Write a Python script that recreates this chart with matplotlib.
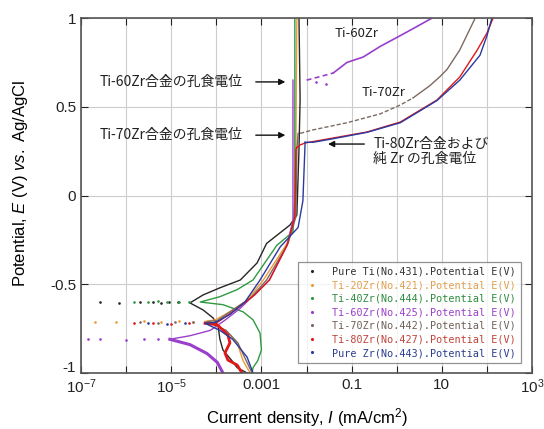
import matplotlib
matplotlib.use("Agg")
import matplotlib.pyplot as plt
from matplotlib.lines import Line2D
from matplotlib.ticker import FixedLocator, FixedFormatter
from matplotlib.transforms import ScaledTranslation

plt.rcParams['font.family'] = ['Liberation Sans', 'DejaVu Sans']
plt.rcParams['mathtext.fontset'] = 'custom'
plt.rcParams['mathtext.rm'] = 'Liberation Sans'
plt.rcParams['mathtext.it'] = 'Liberation Sans:italic'

# current density (mA/cm2) and potential (V)
# Pure Ti
pti_i = [4.8e-4, 2.9e-4, 2.2e-4, 1.4e-4, 1.2e-4, 1.1e-4, 8.5e-5, 5.1e-5, 2.6e-5,
         5.1e-5, 1.2e-4, 3.4e-4, 8e-4, 1.3e-3, 4.3e-3, 6.1e-3, 6.8e-3, 7.2e-3, 6.8e-3]
pti_e = [-1.0, -0.97, -0.93, -0.87, -0.81, -0.74, -0.69, -0.645, -0.605,
         -0.56, -0.52, -0.476, -0.38, -0.27, -0.166, -0.11, 0.26, 0.54, 1.0]
pti_dot_i = [2.6e-7, 7e-7, 2e-6, 4e-6, 6e-6, 9e-6, 1.4e-5]
pti_dot_e = [-0.60, -0.605, -0.60, -0.598, -0.603, -0.60, -0.602]

# Ti-20Zr
t20_i = [5.6e-4, 3.9e-4, 2.9e-4, 1.6e-4, 8e-5, 5.5e-5, 9.6e-5, 2.0e-4, 4.8e-4,
         1.1e-3, 3.7e-3, 5.5e-3, 5.8e-3, 6.1e-3]
t20_e = [-1.0, -0.93, -0.83, -0.76, -0.72, -0.71, -0.70, -0.655, -0.59,
         -0.476, -0.27, -0.12, 0.26, 1.0]
t20_dot_i = [2e-7, 6e-7, 2.5e-6, 6e-6, 1.5e-5, 3e-5]
t20_dot_e = [-0.71, -0.712, -0.705, -0.71, -0.708, -0.71]

# Ti-40Zr
t40_i = [6.2e-4, 6.5e-4, 8.3e-4, 1.0e-3, 9.3e-4, 6.5e-4, 3.9e-4, 1.4e-4, 4.4e-5,
         1.2e-4, 2.9e-4, 6.5e-4, 2.2e-3, 5.0e-3, 5.5e-3, 5.5e-3]
t40_e = [-1.0, -0.97, -0.93, -0.87, -0.775, -0.70, -0.655, -0.615, -0.60,
         -0.57, -0.53, -0.476, -0.28, -0.205, -0.03, 1.0]
t40_dot_i = [1.5e-6, 3e-6, 5e-6, 8e-6, 1.5e-5, 2.5e-5]
t40_dot_e = [-0.598, -0.60, -0.597, -0.602, -0.60, -0.60]

# Ti-60Zr
t60_cath_i = [1.4e-4, 1.05e-4, 6.2e-5, 2.6e-5, 9.3e-6]
t60_cath_e = [-1.0, -0.94, -0.89, -0.84, -0.81]
t60_i = [9.3e-6, 2.6e-5, 7.3e-5, 1.6e-4, 3.4e-4, 1.5e-3, 3.7e-3, 5.0e-3, 5.0e-3]
t60_e = [-0.81, -0.79, -0.76, -0.70, -0.635, -0.476, -0.28, -0.14, 0.65]
t60_pit_i = [1.0e-2, 2.0e-2, 3.9e-2, 0.079, 0.18, 0.43, 1.0, 2.3, 6.1]
t60_pit_e = [0.65, 0.67, 0.69, 0.75, 0.78, 0.84, 0.89, 0.94, 1.0]
t60_dot_i = [1.4e-7, 2.6e-7, 1e-6, 2.5e-6, 5e-6, 0.016, 0.027]
t60_dot_e = [-0.81, -0.81, -0.812, -0.808, -0.81, 0.64, 0.63]

# Ti-70Zr
t70_i = [6.2e-4, 4.3e-4, 3.0e-4, 1.65e-4, 6.2e-5, 1.05e-4, 2.0e-4, 5.6e-4, 1.3e-3,
         3.9e-3, 5.8e-3, 6.1e-3, 6.5e-3]
t70_e = [-1.0, -0.915, -0.83, -0.76, -0.71, -0.705, -0.655, -0.58, -0.476,
         -0.27, -0.12, 0.26, 0.35]
t70_pit_i = [7.2e-3, 1.4e-2, 0.079, 0.43, 1.2, 2.3, 5.5, 9.1, 13, 25, 55]
t70_pit_e = [0.35, 0.37, 0.41, 0.46, 0.51, 0.55, 0.62, 0.67, 0.71, 0.82, 1.0]
t70_dot_i = [2e-6, 5e-6, 1.2e-5, 3e-5]
t70_dot_e = [-0.715, -0.72, -0.712, -0.715]

# Ti-80Zr
t80_cath_i = [3.7e-4, 2.9e-4, 1.8e-4, 1.55e-4, 2.0e-4, 1.8e-4, 1.05e-4, 5.6e-5]
t80_cath_e = [-1.0, -0.955, -0.927, -0.887, -0.83, -0.786, -0.728, -0.72]
t80_i = [5.6e-5, 1.05e-4, 2.6e-4, 7.1e-4, 1.5e-3, 3.7e-3, 5.5e-3, 5.8e-3, 6.1e-3]
t80_e = [-0.72, -0.715, -0.645, -0.56, -0.476, -0.28, -0.12, 0.26, 0.27]
t80_pit_i = [6.1e-3, 7.2e-3, 9.3e-3, 0.039, 0.22, 1.2, 7.8, 25, 61, 100, 137]
t80_pit_e = [0.27, 0.285, 0.296, 0.324, 0.358, 0.414, 0.538, 0.668, 0.82, 0.915, 1.0]
t80_dot_i = [1.5e-6, 4e-6, 1e-5, 2.5e-5]
t80_dot_e = [-0.72, -0.718, -0.725, -0.72]

# Pure Zr
pzr_i = [6.5e-4, 4.8e-4, 2.3e-4, 1.2e-4, 5.6e-5, 9.6e-5, 2.0e-4, 4.3e-4, 9.3e-4,
         2.6e-3, 6.5e-3, 8.3e-3, 9.3e-3]
pzr_e = [-1.0, -0.91, -0.81, -0.76, -0.72, -0.715, -0.67, -0.60, -0.476,
         -0.29, -0.18, -0.03, 0.30]
pzr_pit_i = [9.3e-3, 1.4e-2, 0.039, 0.22, 1.2, 7.8, 25, 70, 100, 129]
pzr_pit_e = [0.30, 0.30, 0.32, 0.356, 0.41, 0.535, 0.65, 0.79, 0.90, 1.0]
pzr_dot_i = [3e-6, 8e-6, 2e-5]
pzr_dot_e = [-0.72, -0.722, -0.718]

labels = ['Pure Ti(No.431).Potential E(V)', 'Ti-20Zr(No.421).Potential E(V)',
          'Ti-40Zr(No.444).Potential E(V)', 'Ti-60Zr(No.425).Potential E(V)',
          'Ti-70Zr(No.442).Potential E(V)', 'Ti-80Zr(No.427).Potential E(V)',
          'Pure Zr(No.443).Potential E(V)']
line_colors = ['#262626', '#ec9a3a', '#2f9a40', '#9a3fcc', '#7c6a62', '#e01818', '#2a3aa0']
text_colors = ['#333333', '#e0a050', '#2e8b3e', '#9b40c8', '#6e6058', '#c0443a', '#2b3c8e']

x_ticks = [1e-7, 1e-6, 1e-5, 1e-4, 1e-3, 1e-2, 1e-1, 1, 10, 100, 1000]
x_labels = ['$10^{-7}$', '', '$10^{-5}$', '', '0.001', '', '0.1', '', '10', '', '$10^{3}$']
y_ticks = [-1, -0.5, 0, 0.5, 1]
y_labels = ['-1', '-0.5', '0', '0.5', '1']

fig = plt.figure(figsize=(5.44, 4.29), dpi=100)
ax = fig.add_axes([0.149, 0.1305, 0.829, 0.8275])
ax.set_xscale('log')
ax.set_xlim(1e-7, 1e3)
ax.set_ylim(-1, 1)

lw = 1.0
c = line_colors
ax.plot(pti_i, pti_e, color=c[0], lw=lw)
ax.plot(t20_i, t20_e, color=c[1], lw=lw)
ax.plot(t40_i, t40_e, color=c[2], lw=lw)
ax.plot(t60_cath_i, t60_cath_e, color=c[3], lw=2.2)
ax.plot(t60_i, t60_e, color=c[3], lw=lw)
ax.plot(t60_pit_i[:3], t60_pit_e[:3], color=c[3], lw=1.2, ls=(0, (3, 2)))
ax.plot(t60_pit_i[2:], t60_pit_e[2:], color=c[3], lw=1.2)
ax.plot(t70_i, t70_e, color=c[4], lw=lw)
ax.plot(t70_pit_i[:6], t70_pit_e[:6], color=c[4], lw=1.0, ls=(0, (3, 1.5)))
ax.plot(t70_pit_i[5:], t70_pit_e[5:], color=c[4], lw=1.0)
ax.plot(t80_cath_i, t80_cath_e, color=c[5], lw=2.0)
ax.plot(t80_i, t80_e, color=c[5], lw=lw)
ax.plot(t80_pit_i, t80_pit_e, color=c[5], lw=lw)
ax.plot(pzr_i, pzr_e, color=c[6], lw=lw)
ax.plot(pzr_pit_i, pzr_pit_e, color=c[6], lw=lw)

dots = [(pti_dot_i, pti_dot_e), (t20_dot_i, t20_dot_e), (t40_dot_i, t40_dot_e),
        (t60_dot_i, t60_dot_e), (t70_dot_i, t70_dot_e), (t80_dot_i, t80_dot_e),
        (pzr_dot_i, pzr_dot_e)]
for (di, de), col in zip(dots, c):
    ax.plot(di, de, ls='none', marker='.', ms=1.8, color=col)

# axes styling
ax.xaxis.set_major_locator(FixedLocator(x_ticks))
ax.xaxis.set_major_formatter(FixedFormatter(x_labels))
ax.xaxis.set_minor_locator(FixedLocator([]))
ax.set_yticks(y_ticks)
ax.set_yticklabels(y_labels)
ax.tick_params(direction='in', top=True, right=True, length=5, width=0.8,
               labelsize=11, colors='#222222')
ax.grid(True, color='#cccccc', lw=0.8)
for sp in ax.spines.values():
    sp.set_color('#555555')
    sp.set_linewidth(1.2)

# lift the "-1" label a little so it clears 10^-7, as in the original
lbl = ax.get_yticklabels()[0]
lbl.set_transform(lbl.get_transform() + ScaledTranslation(0, 5 / 72, fig.dpi_scale_trans))

ax.set_xlabel('Current density, $\\it{I}$ (mA/cm$^2$)', fontsize=12, labelpad=7)
ax.set_ylabel('Potential, $\\it{E}$ (V) $\\it{vs.}$ Ag/AgCl', fontsize=12)
ax.yaxis.set_label_coords(-0.113, 0.535)

# annotations
jp = ['Noto Sans CJK JP', 'DejaVu Sans']
arrow = dict(arrowstyle='-|>', color='#111111', lw=1.0, mutation_scale=9)
ax.annotate('', xy=(3.9e-3, 0.64), xytext=(6.5e-4, 0.64), arrowprops=arrow)
ax.annotate('', xy=(3.9e-3, 0.34), xytext=(6.5e-4, 0.34), arrowprops=arrow)
ax.annotate('', xy=(0.026, 0.29), xytext=(0.22, 0.29), arrowprops=arrow)
ax.text(3.9e-4, 0.64, 'Ti-60Zr合金の孔食電位', family=jp, fontsize=10,
        ha='right', va='center', color='#222222')
ax.text(3.9e-4, 0.34, 'Ti-70Zr合金の孔食電位', family=jp, fontsize=10,
        ha='right', va='center', color='#222222')
ax.text(0.30, 0.29, 'Ti-80Zr合金および', family=jp, fontsize=10,
        ha='left', va='center', color='#222222')
ax.text(0.30, 0.205, '純 Zr の孔食電位', family=jp, fontsize=10,
        ha='left', va='center', color='#222222')
ax.text(0.13, 0.915, 'Ti-60Zr', family=jp, fontsize=9.5, ha='center',
        va='center', color='#222222')
ax.text(0.52, 0.58, 'Ti-70Zr', family=jp, fontsize=9.5, ha='center',
        va='center', color='#222222')

handles = [Line2D([], [], ls='none', marker='.', ms=2.5, color=col) for col in c]
leg = ax.legend(handles, labels, loc='lower right', bbox_to_anchor=(0.975, 0.028),
                borderaxespad=0, prop={'family': 'DejaVu Sans Mono', 'size': 7.3},
                frameon=True, fancybox=False, edgecolor='#777777',
                handlelength=1.7, handletextpad=1.1, labelspacing=0.35,
                borderpad=0.5)
leg.get_frame().set_linewidth(0.9)
for txt, col in zip(leg.get_texts(), text_colors):
    txt.set_color(col)

fig.savefig('out.png', dpi=100)
